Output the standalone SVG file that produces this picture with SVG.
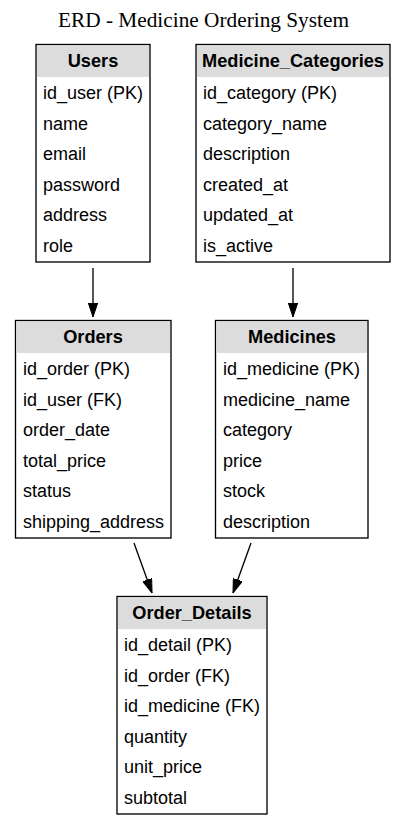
<svg xmlns="http://www.w3.org/2000/svg" width="407" height="825" viewBox="0 0 407 825">
<defs>
<style>
.bg{fill:#ffffff}
.box{fill:#ffffff;stroke:#000000;stroke-width:1.33}
.hdr{fill:#dcdcdc}
.title{font-family:"Liberation Serif","Times New Roman",serif;font-size:21.3px;fill:#000}
.h{font-family:"Liberation Sans",Arial,sans-serif;font-size:18.2px;font-weight:bold;fill:#000;text-anchor:middle}
.f{font-family:"Liberation Sans",Arial,sans-serif;font-size:18px;fill:#000}
.edge{stroke:#000;stroke-width:1.33;fill:none}
</style>
<marker id="arr" markerWidth="14" markerHeight="10" refX="14" refY="5" orient="auto" markerUnits="userSpaceOnUse">
<path d="M0,0.3 L14,5 L0,9.7 Z" fill="#000" stroke="#000" stroke-width="1"/>
</marker>
</defs>
<rect class="bg" x="0" y="0" width="407" height="825"/>
<text class="title" x="203.5" y="27" text-anchor="middle">ERD - Medicine Ordering System</text>

<g id="edges">
<line class="edge" x1="93" y1="268" x2="93" y2="317" marker-end="url(#arr)"/>
<line class="edge" x1="293" y1="268" x2="293" y2="317" marker-end="url(#arr)"/>
<line class="edge" x1="134" y1="543" x2="152" y2="593" marker-end="url(#arr)"/>
<line class="edge" x1="251" y1="543" x2="233" y2="593" marker-end="url(#arr)"/>
</g>

<g id="Users">
<rect class="box" x="36" y="44.5" width="114" height="217.5"/>
<rect class="hdr" x="37" y="45.5" width="112" height="31.5"/>
<text class="h" x="93" y="67">Users</text>
<text class="f" x="43" y="99">id_user (PK)</text>
<text class="f" x="43" y="129.5">name</text>
<text class="f" x="43" y="160">email</text>
<text class="f" x="43" y="190.5">password</text>
<text class="f" x="43" y="221">address</text>
<text class="f" x="43" y="251.5">role</text>
</g>

<g id="Medicine_Categories">
<rect class="box" x="196" y="44.5" width="194" height="217.5"/>
<rect class="hdr" x="197" y="45.5" width="192" height="31.5"/>
<text class="h" x="293" y="67">Medicine_Categories</text>
<text class="f" x="203" y="99">id_category (PK)</text>
<text class="f" x="203" y="129.5">category_name</text>
<text class="f" x="203" y="160">description</text>
<text class="f" x="203" y="190.5">created_at</text>
<text class="f" x="203" y="221">updated_at</text>
<text class="f" x="203" y="251.5">is_active</text>
</g>

<g id="Orders">
<rect class="box" x="15.5" y="320.5" width="155.5" height="217.5"/>
<rect class="hdr" x="16.5" y="321.5" width="153.5" height="31.5"/>
<text class="h" x="93" y="343">Orders</text>
<text class="f" x="23" y="375">id_order (PK)</text>
<text class="f" x="23" y="405.5">id_user (FK)</text>
<text class="f" x="23" y="436">order_date</text>
<text class="f" x="23" y="466.5">total_price</text>
<text class="f" x="23" y="497">status</text>
<text class="f" x="23" y="527.5">shipping_address</text>
</g>

<g id="Medicines">
<rect class="box" x="215.5" y="320.5" width="152.5" height="217.5"/>
<rect class="hdr" x="216.5" y="321.5" width="150.5" height="31.5"/>
<text class="h" x="292" y="343">Medicines</text>
<text class="f" x="223" y="375">id_medicine (PK)</text>
<text class="f" x="223" y="405.5">medicine_name</text>
<text class="f" x="223" y="436">category</text>
<text class="f" x="223" y="466.5">price</text>
<text class="f" x="223" y="497">stock</text>
<text class="f" x="223" y="527.5">description</text>
</g>

<g id="Order_Details">
<rect class="box" x="117" y="596.5" width="150" height="217.5"/>
<rect class="hdr" x="118" y="597.5" width="148" height="31.5"/>
<text class="h" x="192" y="619">Order_Details</text>
<text class="f" x="124" y="651">id_detail (PK)</text>
<text class="f" x="124" y="681.5">id_order (FK)</text>
<text class="f" x="124" y="712">id_medicine (FK)</text>
<text class="f" x="124" y="742.5">quantity</text>
<text class="f" x="124" y="773">unit_price</text>
<text class="f" x="124" y="803.5">subtotal</text>
</g>
</svg>
